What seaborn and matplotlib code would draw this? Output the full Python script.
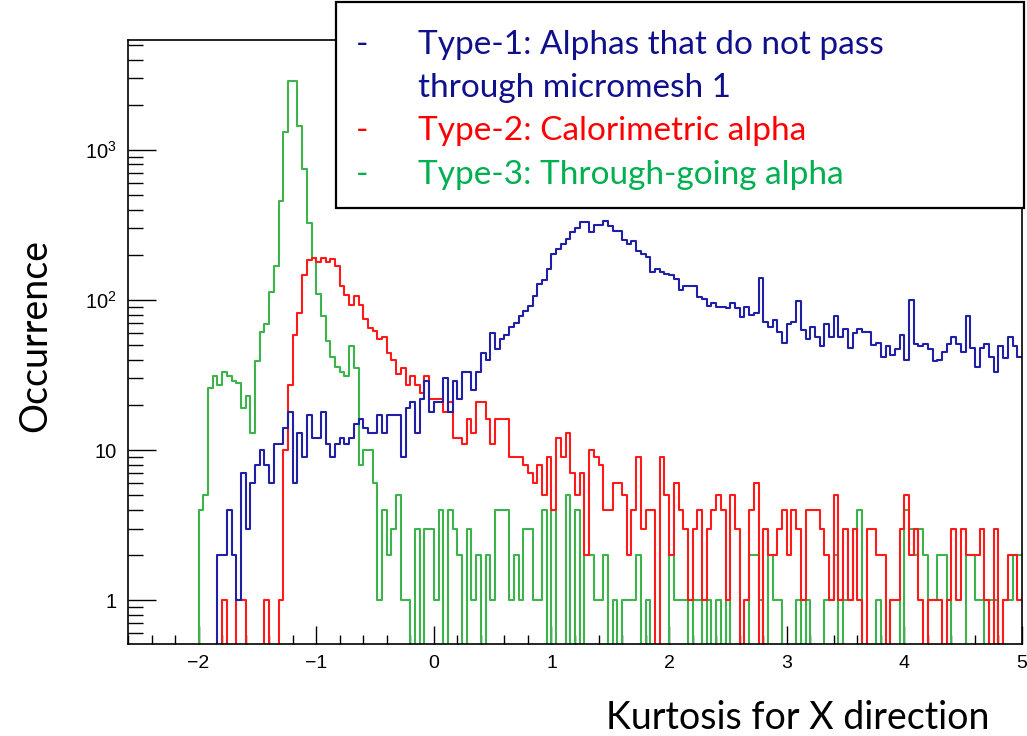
import numpy as np
import pandas as pd
import matplotlib
matplotlib.use("Agg")
import matplotlib.pyplot as plt
import seaborn as sns
from matplotlib.patches import Rectangle
from matplotlib.ticker import FixedLocator, FixedFormatter, MultipleLocator, LogLocator, NullFormatter

# 190 bins of width 0.04 from -2.6 to 5.0
bin_edges = [round(-2.6 + 0.04 * i, 4) for i in range(191)]

# Type-1: alphas that do not pass through micromesh 1
type1_counts = [0] * 19 + [
    2, 2, 4, 2, 1, 7, 3, 6, 8, 10, 8, 6, 11, 11, 14, 18, 6, 13, 9, 17,
    12, 12, 18, 11, 9, 11, 12, 11, 12, 15, 16, 14, 13, 13, 17, 13, 17, 17, 17, 9,
    19, 21, 13, 22, 29, 18, 21, 21, 30, 18, 29, 22, 33, 33, 25, 33, 44, 40, 60, 47,
    55, 58, 66, 70, 78, 84, 91, 106, 128, 135, 161, 202, 218, 236, 255, 284, 302, 330, 330, 284,
    318, 318, 334, 312, 290, 290, 251, 237, 248, 213, 203, 193, 154, 160, 154, 149, 146, 138, 117, 124,
    124, 124, 104, 101, 91, 95, 90, 90, 88, 95, 88, 77, 90, 80, 82, 141, 71, 66, 73, 61,
    52, 69, 71, 98, 63, 55, 66, 57, 49, 69, 57, 78, 57, 64, 48, 60, 64, 61, 61, 50,
    52, 42, 49, 43, 47, 58, 40, 100, 51, 49, 51, 47, 39, 40, 45, 51, 57, 51, 45, 78,
    48, 36, 48, 51, 42, 33, 49, 41, 57, 49, 42,
]

# Type-2: calorimetric alpha
type2_counts = [0] * 20 + [
    1, 0, 0, 1, 1, 0, 0, 0, 0, 1, 0, 0, 1, 10, 27, 58, 82, 147, 185, 191,
    180, 191, 180, 188, 168, 124, 108, 92, 107, 92, 75, 65, 62, 55, 57, 44, 40, 32, 35, 27,
    31, 27, 24, 31, 22, 22, 22, 18, 21, 12, 12, 11, 16, 13, 21, 21, 16, 11, 16, 16,
    16, 9, 9, 9, 8, 7, 6, 8, 5, 9, 4, 12, 9, 13, 7, 5, 7, 2, 10, 9,
    8, 4, 4, 6, 6, 5, 2, 4, 9, 3, 4, 4, 0, 9, 5, 2, 6, 4, 3, 1,
    3, 4, 1, 3, 4, 5, 4, 1, 5, 3, 0, 1, 4, 6, 0, 3, 2, 2, 3, 4,
    2, 4, 3, 1, 4, 4, 4, 3, 2, 1, 5, 1, 3, 1, 3, 1, 0, 3, 3, 2,
    2, 0, 1, 1, 3, 5, 2, 3, 1, 0, 1, 1, 1, 0, 1, 3, 1, 3, 2, 2,
    2, 3, 1, 0, 3, 0, 1, 2, 2, 1,
]

# Type-3: through-going alpha
type3_counts = [0] * 15 + [
    4, 5, 26, 31, 27, 33, 31, 29, 28, 19, 23, 13, 39, 61, 69, 113, 169, 459, 1312, 2896,
    2896, 1450, 749, 327, 190, 110, 78, 53, 42, 36, 33, 31, 49, 35, 8, 10, 10, 6, 1, 4,
    2, 3, 5, 1, 1, 0, 3, 0, 3, 3, 1, 4, 0, 4, 3, 2, 0, 3, 1, 2,
    0, 2, 1, 4, 4, 4, 1, 2, 1, 3, 3, 1, 1, 4, 0, 4, 0, 0, 5, 0,
    4, 0, 2, 2, 1, 1, 2, 0, 1, 0, 1, 1, 1, 2, 0, 1, 0, 0, 0, 0,
    2, 1, 1, 1, 0, 1, 1, 0, 1, 0, 1, 0, 1, 0, 0, 0, 0, 2, 2, 1,
    0, 2, 1, 1, 0, 0, 0, 1, 0, 1, 0, 0, 0, 1, 1, 2, 0, 1, 1, 3,
    4, 0, 0, 0, 1, 0, 0, 1, 1, 0, 4, 3, 2, 3, 2, 1, 1, 2, 2, 1,
    0, 0, 0, 2, 2, 1, 1, 0, 1, 1, 0, 1, 1, 2, 2,
]

type_names = ["Type-1", "Type-2", "Type-3"]
line_colors = {"Type-1": "#2020a6", "Type-2": "#ff1a1a", "Type-3": "#3cb44b"}

legend_lines = [
    ("Type-1: Alphas that do not pass", "#10108c"),
    ("through micromesh 1", "#10108c"),
    ("Type-2: Calorimetric alpha", "#ff0000"),
    ("Type-3: Through-going alpha", "#00b050"),
]

y_tick_values = [1, 10, 100, 1000]
y_tick_labels = ["1", "10", r"$\mathregular{10^{2}}$", r"$\mathregular{10^{3}}$"]

centers = [e + 0.02 for e in bin_edges[:-1]]
frames = []
for name, counts in zip(type_names, [type1_counts, type2_counts, type3_counts]):
    frames.append(pd.DataFrame({"kurtosis": centers, "count": counts, "type": name}))
df = pd.concat(frames, ignore_index=True)

sns.set_style("white")
plt.rcParams["font.family"] = ["Liberation Sans", "DejaVu Sans"]
plt.rcParams["axes.unicode_minus"] = True

W, H = 1027, 736
fig = plt.figure(figsize=(W / 100, H / 100), dpi=100)
ax = fig.add_axes([128 / W, 1 - 644 / H, (1022 - 128) / W, (644 - 40) / H])

sns.histplot(data=df, x="kurtosis", weights="count", hue="type", hue_order=type_names,
             bins=bin_edges, element="step", fill=False, palette=line_colors,
             linewidth=1.5, legend=False, ax=ax)

ax.set_yscale("log")
ax.set_xlim(-2.6, 5.0)
ax.set_ylim(0.51, 5400)
ax.set_xlabel("")
ax.set_ylabel("")

# ROOT-like frame and ticks
for side in ["left", "bottom", "top", "right"]:
    ax.spines[side].set_visible(True)
    ax.spines[side].set_color("black")
    ax.spines[side].set_linewidth(1.2)

ax.xaxis.set_major_locator(FixedLocator([-2, -1, 0, 1, 2, 3, 4, 5]))
ax.xaxis.set_minor_locator(MultipleLocator(0.2))
ax.yaxis.set_major_locator(FixedLocator(y_tick_values))
ax.yaxis.set_major_formatter(FixedFormatter(y_tick_labels))
ax.yaxis.set_minor_locator(LogLocator(base=10, subs=np.arange(2, 10)))
ax.yaxis.set_minor_formatter(NullFormatter())

ax.tick_params(axis="x", which="major", direction="in", length=13, width=1.0,
               labelsize=14, pad=8, bottom=True, top=False, colors="black")
ax.tick_params(axis="x", which="minor", direction="in", length=6.5, width=1.0,
               bottom=True, top=False, colors="black")
ax.tick_params(axis="y", which="major", direction="in", length=20, width=1.0,
               labelsize=14.5, pad=8, left=True, right=False, colors="black")
ax.tick_params(axis="y", which="minor", direction="in", length=11, width=1.0,
               left=True, right=False, colors="black")

# axis titles
fig.text(35 / W, 1 - 335 / H, "Occurrence", rotation=90, ha="center", va="center",
         fontsize=27, family=["Lato", "DejaVu Sans"], color="black")
fig.text(990 / W, 1 - 718 / H, "Kurtosis for X direction", ha="right", va="center",
         fontsize=27, family=["Lato", "DejaVu Sans"], color="black")

# legend box
box = Rectangle((336 / W, 1 - 208 / H), (1024 - 336) / W, (208 - 2) / H,
                transform=fig.transFigure, facecolor="white", edgecolor="black",
                linewidth=1.6, zorder=5)
fig.add_artist(box)
line_y = [45, 88, 131, 175]
for (txt, col), yy in zip(legend_lines, line_y):
    if txt.startswith("Type"):
        fig.text(362 / W, 1 - yy / H, "-", ha="center", va="center", fontsize=24,
                 family=["Lato", "DejaVu Sans"], color=col, zorder=6)
    fig.text(418 / W, 1 - yy / H, txt, ha="left", va="center", fontsize=24,
             family=["Lato", "DejaVu Sans"], color=col, zorder=6)

fig.savefig("out.png", dpi=100, facecolor="white")
